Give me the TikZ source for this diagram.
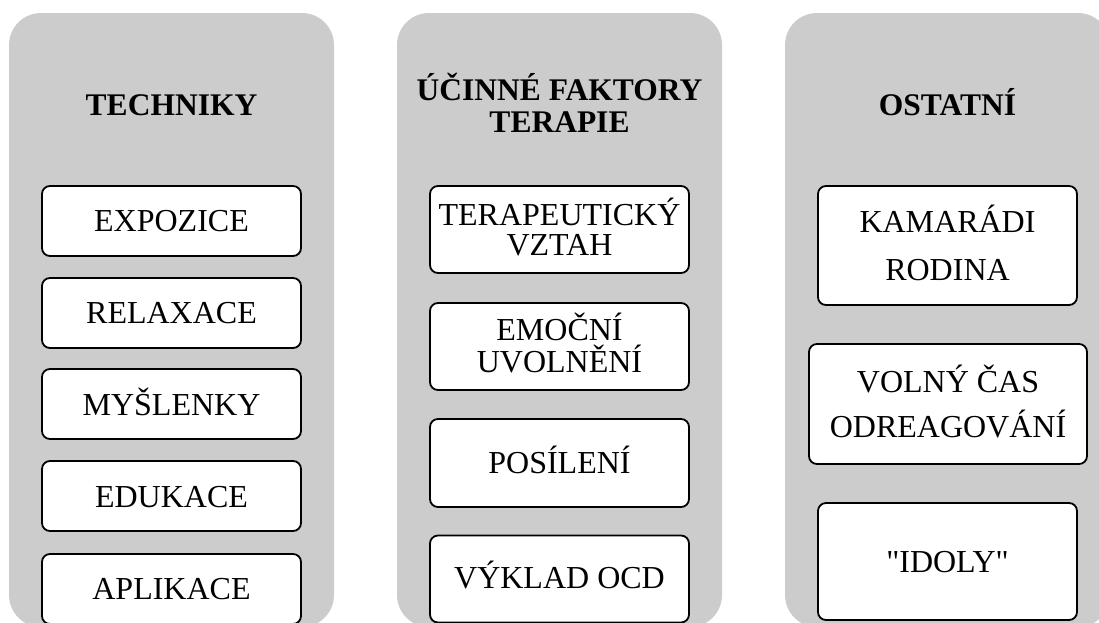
\documentclass[tikz,border=0pt]{standalone}
\usepackage{fontspec}
\setmainfont{Liberation Serif}[Ligatures=TeXOff]
\definecolor{panelgray}{HTML}{CCCCCC}
\tikzset{
  panel/.style={fill=panelgray, rounded corners=32pt},
  box/.style={draw=black, fill=white, line width=1.8pt, rounded corners=8pt, inner sep=0pt, minimum width=259pt},
  txt/.style={anchor=base, inner sep=0pt, font=\fontsize{32pt}{36pt}\selectfont},
  ttl/.style={anchor=base, inner sep=0pt, font=\fontsize{31.5pt}{36pt}\selectfont\bfseries}
}
\begin{document}
\begin{tikzpicture}[x=1pt,y=-1pt]
\useasboundingbox (0,0) rectangle (1099,622);
\clip (0,0) rectangle (1099,622);
% panels
\fill[panel] (9,13) rectangle (334,627);
\fill[panel] (397,13) rectangle (722,627);
\fill[panel] (785,13) rectangle (1110,627);
% column 1
\node[ttl] (h1) at (171.5,115) {TECHNIKY};
\node[box, minimum height=70pt] (a1) at (171.5,221) {};
\node[box, minimum height=70pt] (a2) at (171.5,313) {};
\node[box, minimum height=70pt] (a3) at (171.5,404) {};
\node[box, minimum height=70pt] (a4) at (171.5,496) {};
\node[box, minimum height=70pt] (a5) at (171.5,589) {};
\node[txt] (ta1) at (a1.center |- 0,231) {EXPOZICE};
\node[txt] (ta2) at (a2.center |- 0,323) {RELAXACE};
\node[txt] (ta3) at (a3.center |- 0,415) {MYŠLENKY};
\node[txt] (ta4) at (a4.center |- 0,507) {EDUKACE};
\node[txt] (ta5) at (a5.center |- 0,599) {APLIKACE};
% column 2
\node[ttl] (h2a) at (559.5,100) {ÚČINNÉ FAKTORY};
\node[ttl] (h2b) at (559.5,132) {TERAPIE};
\node[box, minimum height=87pt] (b1) at (559.5,229.5) {};
\node[box, minimum height=87pt] (b2) at (559.5,346.5) {};
\node[box, minimum height=88pt] (b3) at (559.5,463) {};
\node[box, minimum height=87pt] (b4) at (559.5,579) {};
\node[txt] (tb1a) at (b1.center |- 0,225) {TERAPEUTICKÝ};
\node[txt] (tb1b) at (b1.center |- 0,255) {VZTAH};
\node[txt] (tb2a) at (b2.center |- 0,340) {EMOČNÍ};
\node[txt] (tb2b) at (b2.center |- 0,372) {UVOLNĚNÍ};
\node[txt] (tb3) at (b3.center |- 0,473) {POSÍLENÍ};
\node[txt] (tb4) at (b4.center |- 0,588) {VÝKLAD OCD};
% column 3
\node[ttl] (h3) at (947.5,115) {OSTATNÍ};
\node[box, minimum height=119pt] (c1) at (947.5,245.5) {};
\node[box, minimum width=278pt, minimum height=120pt] (c2) at (948,404) {};
\node[box, minimum height=117pt] (c3) at (947.5,561.5) {};
\node[txt] (tc1a) at (c1.center |- 0,232) {KAMARÁDI};
\node[txt] (tc1b) at (c1.center |- 0,280) {RODINA};
\node[txt] (tc2a) at (c2.center |- 0,392) {VOLNÝ ČAS};
\node[txt] (tc2b) at (c2.center |- 0,437) {ODREAGOVÁNÍ};
\node[txt] (tc3) at (c3.center |- 0,572) {"IDOLY"};
\end{tikzpicture}
\end{document}
